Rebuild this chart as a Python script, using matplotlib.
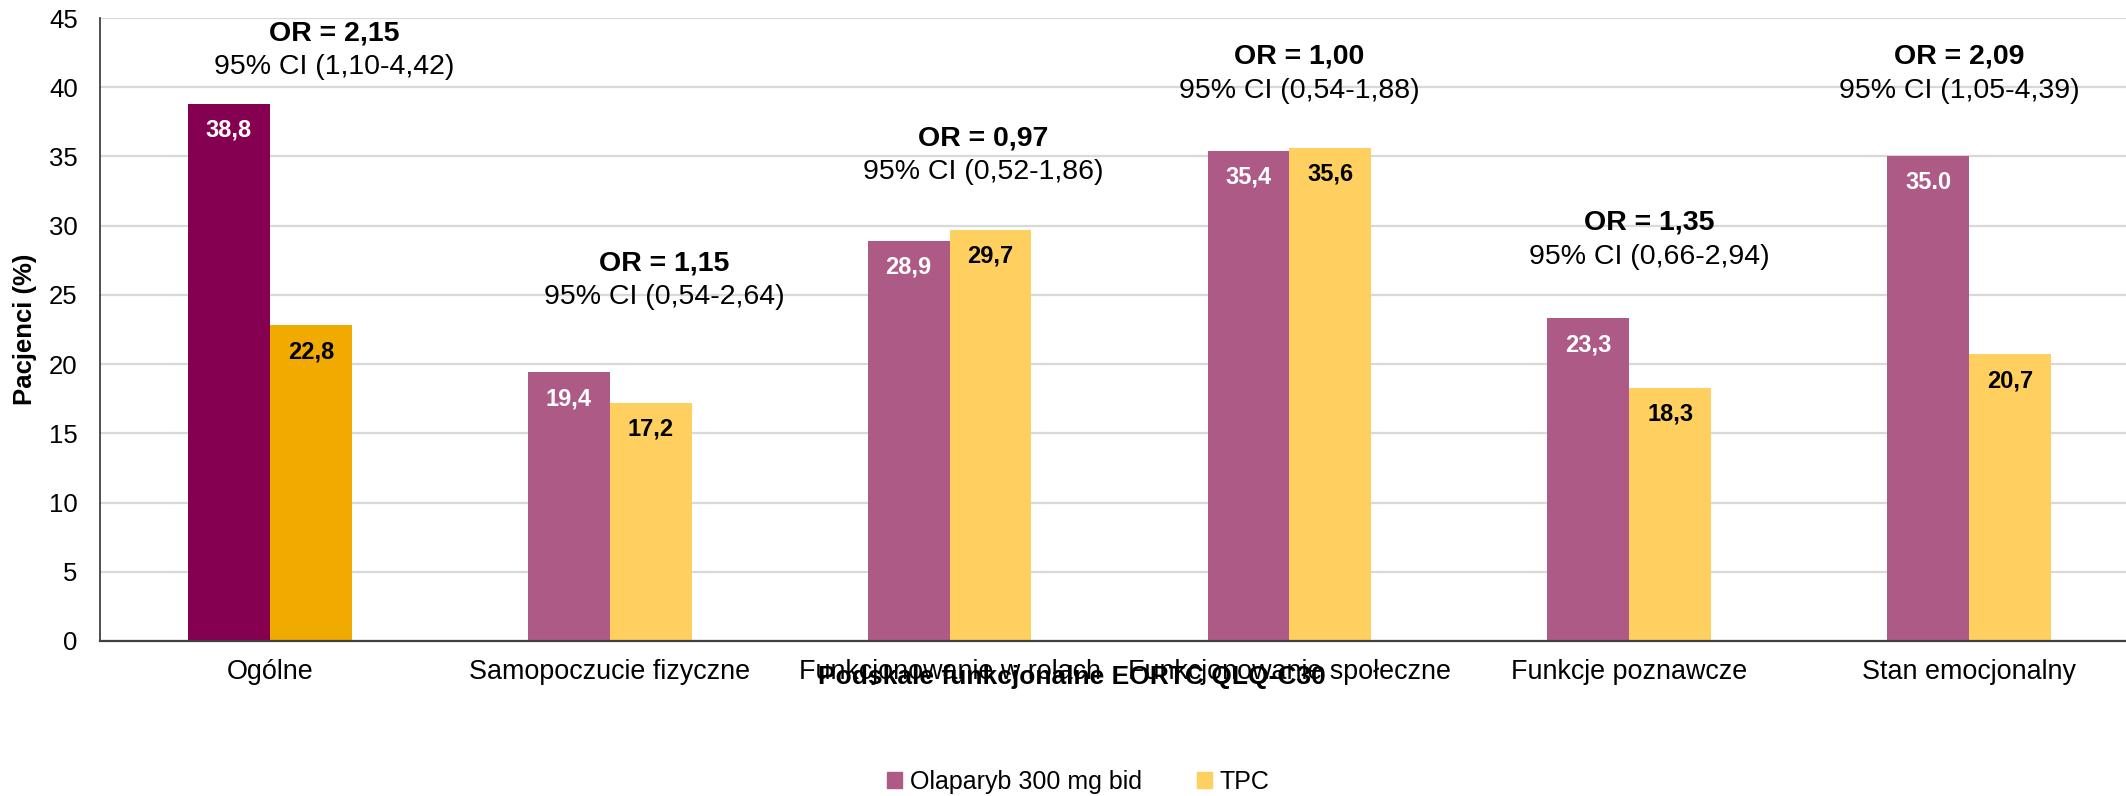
import matplotlib
matplotlib.use("Agg")
import matplotlib.pyplot as plt
import numpy as np
from matplotlib.patches import Patch

# EORTC QLQ-C30 functional subscales, % of patients
CATEGORIES = ["Ogólne", "Samopoczucie fizyczne", "Funkcjonowanie w rolach",
              "Funkcjonowanie społeczne", "Funkcje poznawcze", "Stan emocjonalny"]
OLAPARIB = [38.8, 19.4, 28.9, 35.4, 23.3, 35.0]
TPC = [22.8, 17.2, 29.7, 35.6, 18.3, 20.7]
OR_VALUES = ["2,15", "1,15", "0,97", "1,00", "1,35", "2,09"]
CI_VALUES = ["1,10-4,42", "0,54-2,64", "0,52-1,86", "0,54-1,88", "0,66-2,94", "1,05-4,39"]
SERIES = ["Olaparyb 300 mg bid", "TPC"]
YTICKS = [0, 5, 10, 15, 20, 25, 30, 35, 40, 45]

# annotation placement (x offset from group centre, y of the OR line)
OR_DX = [0.19, 0.16, 0.10, 0.03, 0.06, -0.03]
OR_Y = [43.9, 27.3, 36.3, 42.2, 30.2, 42.2]

PURPLE, YELLOW = "#AD5A87", "#FFD060"
PURPLE_DARK, YELLOW_DARK = "#850050", "#F0AA00"

plt.rcParams["font.family"] = ["Liberation Sans", "DejaVu Sans"]

fig = plt.figure(figsize=(21.26, 7.96), dpi=100)
ax = fig.add_axes([100 / 2126, 155 / 796, 2039 / 2126, 623 / 796])

x = np.arange(len(CATEGORIES))
w = 0.241
c_ola = [PURPLE_DARK] + [PURPLE] * (len(x) - 1)
c_tpc = [YELLOW_DARK] + [YELLOW] * (len(x) - 1)
ax.bar(x - w / 2, OLAPARIB, w, color=c_ola, zorder=2)
ax.bar(x + w / 2, TPC, w, color=c_tpc, zorder=2)


def fmt(v, sep=","):
    return f"{v:.1f}".replace(".", sep)


for i in range(len(x)):
    sep = "." if i == len(x) - 1 else ","
    ax.text(x[i] - w / 2, OLAPARIB[i] - 1.9, fmt(OLAPARIB[i], sep), ha="center",
            va="center", color="white", fontsize=17, fontweight="bold", zorder=3)
    ax.text(x[i] + w / 2, TPC[i] - 1.9, fmt(TPC[i]), ha="center", va="center",
            color="black", fontsize=17, fontweight="bold", zorder=3)
    ax.text(x[i] + OR_DX[i], OR_Y[i], f"OR = {OR_VALUES[i]}", ha="center",
            va="center", fontsize=20.5, fontweight="bold", zorder=3)
    ax.text(x[i] + OR_DX[i], OR_Y[i] - 2.45, f"95% CI ({CI_VALUES[i]})",
            ha="center", va="center", fontsize=20.5, zorder=3)

ax.set_xlim(-0.5, len(x) - 0.5)
ax.set_ylim(0, 45)
ax.set_yticks(YTICKS)
ax.set_xticks(x)
ax.set_xticklabels(CATEGORIES, fontsize=19.4)
ax.tick_params(axis="y", labelsize=18.5, length=0, pad=16)
ax.tick_params(axis="x", length=0, pad=13)
ax.yaxis.grid(True, color="#D9D9D9", linewidth=1.6, zorder=0)
ax.set_axisbelow(True)
for s in ("top", "right"):
    ax.spines[s].set_visible(False)
ax.spines["left"].set_color("#404040")
ax.spines["bottom"].set_color("#404040")
ax.spines["left"].set_linewidth(1.3)
ax.spines["bottom"].set_linewidth(1.6)

ax.set_ylabel("Pacjenci (%)", fontsize=18.5, fontweight="bold")
ax.yaxis.set_label_coords(-0.031, 0.5)
fig.text(1072 / 2126, 1 - 677 / 796, "Podskale funkcjonalne EORTC QLQ-C30",
         ha="center", va="center", fontsize=19, fontweight="bold")

handles = [Patch(color=PURPLE), Patch(color=YELLOW)]
fig.legend(handles, SERIES, loc="center", bbox_to_anchor=(1078 / 2126, 1 - 782 / 796),
           ncol=2, frameon=False, fontsize=18, handlelength=0.6, handleheight=0.6,
           handletextpad=0.3, columnspacing=2.2)

fig.savefig("out.png", dpi=100)
